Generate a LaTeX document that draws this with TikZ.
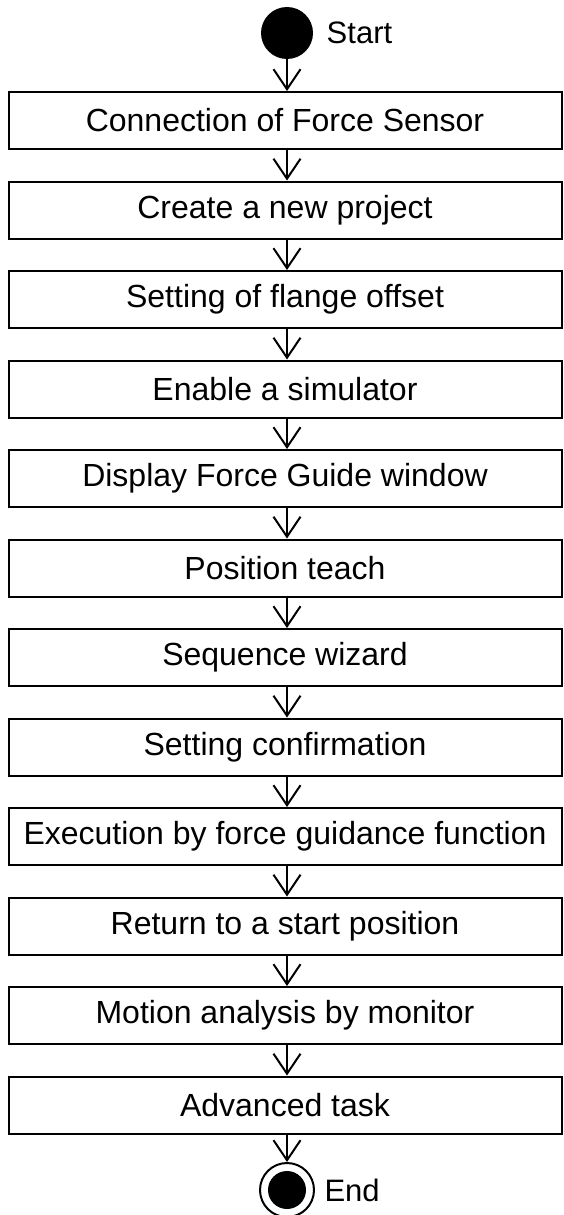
\documentclass[tikz,border=0pt]{standalone}
\usepackage{fontspec}
\setmainfont{Liberation Sans}
\usetikzlibrary{arrows.meta,positioning}

\begin{document}
\begin{tikzpicture}[x=1pt,y=1pt,>={Straight Barb[length=20pt,width=27pt]},
  stepbox/.style={draw,line width=2pt,minimum width=553pt,minimum height=57pt,
    inner sep=0pt,font=\fontsize{32}{36}\selectfont},
  flow/.style={->,line width=2pt},
  lbl/.style={right=10pt of #1,font=\fontsize{31}{36}\selectfont},
  node distance=30.5pt]
\useasboundingbox (0,0) rectangle (563,-1215);

\node[circle,fill=black,minimum size=52pt,inner sep=0pt] (start) at (287,-33) {};
\node[lbl=start] (startlbl) {Start};

\node[stepbox] (s1) at (285,-120.5) {Connection of Force Sensor};
\node[stepbox,below=of s1] (s2) {Create a new project};
\node[stepbox,below=of s2] (s3) {Setting of flange offset};
\node[stepbox,below=of s3] (s4) {Enable a simulator};
\node[stepbox,below=of s4] (s5) {Display Force Guide window};
\node[stepbox,below=of s5] (s6) {Position teach};
\node[stepbox,below=of s6] (s7) {Sequence wizard};
\node[stepbox,below=of s7] (s8) {Setting confirmation};
\node[stepbox,below=of s8] (s9) {Execution by force guidance function};
\node[stepbox,below=of s9] (s10) {Return to a start position};
\node[stepbox,below=of s10] (s11) {Motion analysis by monitor};
\node[stepbox,below=of s11] (s12) {Advanced task};

\node[circle,draw,line width=2pt,minimum size=54pt,inner sep=0pt] (end) at (287,-1190) {};
\node[circle,fill=black,minimum size=38pt,inner sep=0pt] (endin) at (end.center) {};
\node[lbl=end,right=6pt of end] (endlbl) {End};

% arrows
\draw[flow] (start.south) -- (start.south |- s1.north);
\foreach \a/\b in {s1/s2,s2/s3,s3/s4,s4/s5,s5/s6,s6/s7,s7/s8,s8/s9,s9/s10,s10/s11,s11/s12}
  \draw[flow] (start |- \a.south) -- (start |- \b.north);
\draw[flow] (end |- s12.south) -- (end.north);
\end{tikzpicture}
\end{document}
